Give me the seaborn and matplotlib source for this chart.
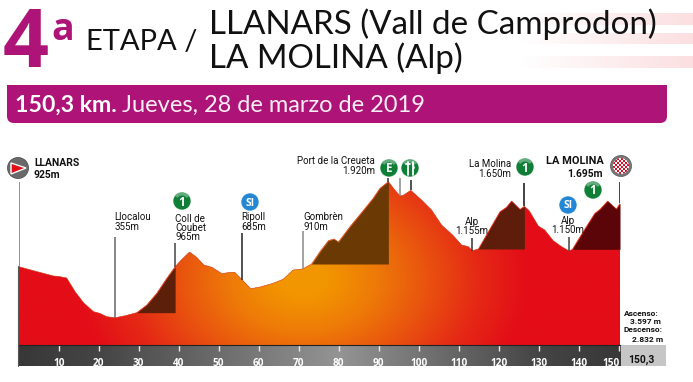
import numpy as np
import pandas as pd
import seaborn as sns
import matplotlib.pyplot as plt
from matplotlib.colors import LinearSegmentedColormap
from matplotlib.patches import Circle, FancyBboxPatch, Polygon, Rectangle, Wedge
from matplotlib.transforms import ScaledTranslation

# profile
km = [0, 3.7, 8.7, 9.9, 12, 14.1, 16.2, 18.7, 20.3, 22, 24.1, 26.6, 29.5, 32, 34.5, 37, 39.1,
      40.8, 42.7, 44.5, 46.3, 48.3, 50.8, 52.8, 54, 55.9, 58, 60.3, 63.6, 66.1, 68.6, 71, 73.2,
      75.3, 77.4, 78.8, 79.9, 82.8, 86.1, 88.6, 90.3, 92.4, 94, 95.3, 96.1, 98, 100.7, 103.2,
      105.7, 108.4, 110.7, 112.4, 113.4, 114.9, 117.4, 120.3, 121.9, 123.2, 125.3, 126.4, 127.6,
      129.9, 131.5, 133.6, 135.7, 137.6, 138.4, 141.1, 144, 145.3, 147.2, 149.4, 150.3]
elev = [943, 896, 835, 831, 812, 655, 528, 425, 405, 367, 355, 378, 413, 501, 636, 808, 942,
        1027, 1111, 1050, 961, 935, 862, 877, 877, 789, 689, 708, 751, 797, 904, 916, 973,
        1115, 1242, 1261, 1226, 1403, 1587, 1729, 1844, 1921, 1825, 1759, 1763, 1821, 1710, 1595,
        1422, 1310, 1192, 1173, 1127, 1146, 1345, 1575, 1625, 1698, 1602, 1637, 1587,
        1410, 1364, 1242, 1173, 1123, 1142, 1345, 1556, 1602, 1698, 1606, 1671]

# climbs: start km, end km, base elevation, shade colour
climb_start = [29.5, 73.2, 114.9, 138.4]
climb_end = [39.1, 92.4, 126.4, 150.3]
climb_base = [413, 973, 1146, 1142]
climb_color = ['#5c1f0a', '#6b3a04', '#5e1c0a', '#5c0509']

# marker lines: km, foot elevation, top elevation, colour
line_km = [0, 24.1, 39.1, 55.9, 71, 92.4, 95.3, 98, 113.4, 126.4, 137.6, 150.3]
line_low = [943, 355, 942, 789, 916, 1921, 1759, 1821, 1127, 1637, 1123, 1671]
line_top = [1913, 1288, 1219, 1326, 1353, 1959, 1959, 1940, 1268, 1909, 1280, 1913]
line_color = ['#777777', '#666666', '#444444', '#222222', '#8a8a8a', '#333333', '#8a8a8a',
              '#222222', '#333333', '#111111', '#444444', '#111111']

tick_km = list(range(10, 151, 10))

df = pd.DataFrame({'km': km, 'elev': elev})

sns.set_theme(style='white')
plt.rcParams['font.family'] = ['Open Sans', 'DejaVu Sans']

W, H = 693, 382
fig = plt.figure(figsize=(W / 100, H / 100), dpi=100)
fig.patch.set_facecolor('white')


def px_axes(x0, y0, x1, y1):
    return fig.add_axes([x0 / W, 1 - y1 / H, (x1 - x0) / W, (y1 - y0) / H])


# km = (px - 18.7) / 4, elevation 41 m sits on the baseline at y=345
ax = px_axes(18.7, 150, 620, 345)
ax.set_xlim(0, 150.3)
ax.set_ylim(41, 41 + 195 / 0.0869)
ax.axis('off')

xx, yy = np.meshgrid(np.linspace(0, 150.3, 400), np.linspace(41, 2285, 200))
rr = np.sqrt(((xx - 71) / 56) ** 2 + ((yy - 800) / 1900) ** 2)
fire = LinearSegmentedColormap.from_list('fire', ['#f29600', '#ee7a08', '#e9530f', '#e52a15', '#e30d18'])
im = ax.imshow(rr, extent=[0, 150.3, 41, 2285], origin='lower', aspect='auto', cmap=fire, vmin=0.1, vmax=1.0)
area = ax.fill_between(df['km'], 41, df['elev'], color='none')
im.set_clip_path(Polygon(area.get_paths()[0].vertices, transform=ax.transData))
ax.set_xlim(0, 150.3)
ax.set_ylim(41, 41 + 195 / 0.0869)

for s, e, b, c in zip(climb_start, climb_end, climb_base, climb_color):
    part = df[(df['km'] >= s) & (df['km'] <= e)]
    ax.fill_between(part['km'], b, part['elev'], color=c, lw=0)

ax.vlines(line_km, line_low, line_top, colors=line_color, lw=1.1, zorder=3)
sns.lineplot(data=df, x='km', y='elev', ax=ax, color='#d8350f', lw=0.4, zorder=2)
ax.axis('off')

# km band
band = px_axes(18.7, 345, 620, 366)
grad = np.interp(np.linspace(0, 150.3, 300), [0, 20, 80, 130, 150.3], [0.22, 0.27, 0.58, 0.27, 0.22])
band.imshow(grad[None, :], extent=[0, 150.3, 0, 1], aspect='auto', cmap='gray', vmin=0, vmax=1)
band.set_xlim(0, 150.3)
band.set_ylim(0, 1)
band.set_yticks([])
band.set_xticks(tick_km)
band.set_xticklabels(tick_km, color='white', fontsize=7.2, fontweight='bold')
band.xaxis.tick_top()
band.tick_params(axis='x', direction='in', length=4.5, width=1, color='#e8e8e8', pad=-17.5)
# the last label sits left of its tick, clear of the grey box
last = band.get_xticklabels()[-1]
last.set_transform(last.get_transform() + ScaledTranslation(-8 / 100, 0, fig.dpi_scale_trans))
sns.despine(ax=band, left=True, right=True, top=True, bottom=True)

# overlay in picture pixels for header, labels and icons
ov = fig.add_axes([0, 0, 1, 1], zorder=5)
ov.set_xlim(0, W)
ov.set_ylim(H, 0)
ov.axis('off')
ov.patch.set_alpha(0)

ov.add_patch(Rectangle((621, 345), 45, 21, color='#c6c6c6', lw=0))
ov.plot([18.7, 620], [345, 345], color='#222222', lw=0.8)
ov.plot([18.3, 18.3], [266, 366], color='#555555', lw=0.8)

# stripes
fade = LinearSegmentedColormap.from_list('fade', ['#ffffff', '#fbdfe1'])
for y0, y1 in [(13, 25), (33, 44), (56, 68)]:
    ov.imshow(np.linspace(0, 1, 100)[None, :], extent=[520, 693, y1, y0], aspect='auto', cmap=fade, zorder=0)
ov.set_xlim(0, W)
ov.set_ylim(H, 0)

# title
MAG = '#ae1477'
ov.text(3, 67, '4', fontsize=58, fontweight='bold', color=MAG, va='baseline', family='Open Sans')
ov.text(51, 40, 'a', fontsize=27, fontweight='bold', color=MAG, va='baseline', family='Open Sans')
ov.text(86, 50, 'ETAPA /', fontsize=21, color='#111111', va='baseline', family='Lato')
ov.text(209, 34, 'LLANARS (Vall de Camprodon)', fontsize=23.9, color='#111111', va='baseline', family='Lato')
ov.text(209, 68, 'LA MOLINA (Alp)', fontsize=23.9, color='#111111', va='baseline', family='Lato')

# purple bar
ov.add_patch(FancyBboxPatch((12, 90), 650, 28, boxstyle='round,pad=5,rounding_size=7', fc=MAG, ec='none'))
ov.add_patch(Rectangle((7, 85), 660, 12, fc=MAG, ec='none'))
ov.text(15, 112, '150,3 km.', fontsize=16.6, fontweight='bold', color='white', va='baseline', family='Lato')
ov.text(122, 112, 'Jueves, 28 de marzo de 2019', fontsize=17, color='#fbeef6', va='baseline', family='Lato')


def label(x, y, s, ha='left', bold=False, size=7.0):
    ov.text(x, y, s, ha=ha, va='center', fontsize=size, color='#111111', linespacing=1.15,
            fontweight='bold' if bold else 'normal', family='Roboto')


label(34, 163, 'LLANARS', bold=True, size=7.5)
label(34, 175, '925m', bold=True, size=7.5)
label(114.5, 216.5, 'Llocalou')
label(114.5, 226.5, '355m')
label(175, 218.5, 'Coll de')
label(175, 228, 'Coubet')
label(175, 237.5, '965m')
label(241, 216.5, 'Ripoll')
label(241, 226.5, '685m')
label(303, 216.5, 'Gombrèn')
label(303, 226.5, '910m')
label(375, 161.5, 'Port de la Creueta', ha='right')
label(375, 171.5, '1.920m', ha='right')
label(511, 164, 'La Molina', ha='right')
label(511, 174, '1.650m', ha='right')
label(604, 161.5, 'LA MOLINA', ha='right', bold=True, size=7.9)
label(603, 174, '1.695m', ha='right', bold=True, size=7.4)
label(471.5, 222, 'Alp', ha='center')
label(472, 231.5, '1.155m', ha='center')
label(568, 221, 'Alp', ha='center')
label(568, 230, '1.150m', ha='center')
label(624, 313, 'Ascenso:', bold=True, size=6)
label(630, 321, '3.597 m', bold=True, size=6)
label(624, 330, 'Descenso:', bold=True, size=6)
label(632, 339, '2.832 m', bold=True, size=6)
label(628, 359.5, '150,3', bold=True, size=7.4)


def badge(x, y, s, color, size=8.5):
    ov.add_patch(Circle((x, y), 9, fc=color, ec='white', lw=0.4, zorder=6))
    if color == '#0f7f38':
        ov.add_patch(Wedge((x, y), 8.5, 215, 325, width=3, fc='white', alpha=0.35, ec='none', zorder=6.5))
    ov.text(x, y + 1, s, ha='center', va='center', color='white', fontsize=size, fontweight='bold',
            zorder=7, family='Open Sans')


badge(182, 201, '1', '#0f7f38')
badge(250, 202, 'SI', '#2387d3', 7.5)
badge(389, 168, 'E', '#0f7f38')
badge(410, 168, '', '#0f7f38')
# fork and knife
ov.plot([407.5, 407.5], [162, 175], color='white', lw=1.3, zorder=7)
ov.plot([412.5, 412.5], [162, 175], color='white', lw=1.3, zorder=7)
ov.plot([405.5, 409.5], [164, 164], color='white', lw=1.3, zorder=7)
ov.plot([412.5, 414], [163, 168], color='white', lw=1.3, zorder=7)
badge(525, 167, '1', '#0f7f38')
badge(568, 205, 'SI', '#2387d3', 7.5)
badge(593, 190, '1', '#0f7f38')

# start icon
ov.add_patch(Circle((18, 168), 10.5, fc='#6a6a6a', ec='#444444', lw=0.5, zorder=6))
ov.add_patch(Polygon([[11, 163], [26, 168], [11, 174]], fc='#e30d18', ec='white', lw=1, zorder=7))

# finish icon
ov.add_patch(Circle((621, 166), 10.5, fc='#777777', ec='#555555', lw=0.5, zorder=6))
ov.add_patch(Circle((621, 166), 8, fc='white', ec='none', zorder=7))
disc = Circle((621, 166), 8, transform=ov.transData)
for i in range(8):
    for j in range(8):
        if (i + j) % 2 == 0:
            r = Rectangle((613 + i * 2, 158 + j * 2), 2, 2, fc='#d8102a', ec='none', zorder=8)
            ov.add_patch(r)
            r.set_clip_path(disc)

fig.savefig('out.png', dpi=100)
